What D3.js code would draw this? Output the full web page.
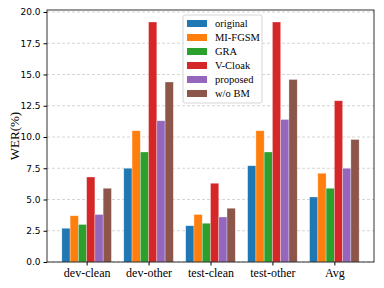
<!DOCTYPE html>
<meta charset="utf-8">
<style>
  html, body { margin: 0; padding: 0; background: #fff; }
  svg { display: block; }
  .tick text { font-family: "DejaVu Sans", sans-serif; font-size: 9px; fill: #000; }
  .xaxis .tick text { font-family: "Liberation Serif", "DejaVu Serif", serif; font-size: 12px; }
  .grid line { stroke: #ccc; stroke-dasharray: 3,2; stroke-width: 0.8; }
</style>
<div id="chart"></div>
<script src="https://cdnjs.cloudflare.com/ajax/libs/d3/7.8.5/d3.min.js"></script>
<script>
var categories = ["dev-clean", "dev-other", "test-clean", "test-other", "Avg"];
var seriesNames = ["original", "MI-FGSM", "GRA", "V-Cloak", "proposed", "w/o BM"];
var colors = ["#1f77b4", "#ff7f0e", "#2ca02c", "#d62728", "#9467bd", "#8c564b"];
var original = [2.7, 7.5, 2.9, 7.7, 5.2];
var miFgsm   = [3.7, 10.5, 3.8, 10.5, 7.1];
var gra      = [3.0, 8.8, 3.1, 8.8, 5.9];
var vCloak   = [6.8, 19.2, 6.3, 19.2, 12.9];
var proposed = [3.8, 11.3, 3.6, 11.4, 7.5];
var woBM     = [5.9, 14.4, 4.3, 14.6, 9.8];
var yTicks = [0, 2.5, 5, 7.5, 10, 12.5, 15, 17.5, 20];

var series = [original, miFgsm, gra, vCloak, proposed, woBM];

var W = 384, H = 288;
var L = 47, R = 374, T = 10, B = 262;

var svg = d3.select("#chart").append("svg").attr("width", W).attr("height", H);

// numeric x like matplotlib: centers at 0..4, 5% margin
var barW = 0.8 / series.length;
var x = d3.scaleLinear().domain([-0.64, 4.64]).range([L, R]);
var y = d3.scaleLinear().domain([0, 20.16]).range([B, T]);

// grid
svg.append("g").attr("class", "grid")
  .selectAll("line").data(yTicks).enter().append("line")
  .attr("x1", L).attr("x2", R)
  .attr("y1", function(d) { return y(d); }).attr("y2", function(d) { return y(d); });

// bars
series.forEach(function(vals, s) {
  svg.append("g").selectAll("rect").data(vals).enter().append("rect")
    .attr("x", function(d, i) { return x(i - 0.4 + s * barW); })
    .attr("width", x(barW) - x(0))
    .attr("y", function(d) { return y(d); })
    .attr("height", function(d) { return B - y(d); })
    .attr("fill", colors[s])
    .attr("stroke", "#fff").attr("stroke-opacity", 0.5).attr("stroke-width", 0.6);
});

// axes
var yAxis = d3.axisLeft(y).tickValues(yTicks).tickFormat(d3.format(".1f")).tickSize(3.5).tickPadding(3);
svg.append("g").attr("transform", "translate(" + L + ",0)").call(yAxis)
  .call(function(g) { g.select(".domain").remove(); });

var xAxis = d3.axisBottom(x).tickValues([0, 1, 2, 3, 4])
  .tickFormat(function(d) { return categories[d]; }).tickSize(3.5).tickPadding(3);
svg.append("g").attr("class", "xaxis").attr("transform", "translate(0," + B + ")").call(xAxis)
  .call(function(g) { g.select(".domain").remove(); });

// spines
svg.append("rect").attr("x", L).attr("y", T).attr("width", R - L).attr("height", B - T)
  .attr("fill", "none").attr("stroke", "#000").attr("stroke-width", 0.8);

// y label
svg.append("text")
  .attr("transform", "translate(19," + ((T + B) / 2) + ") rotate(-90)")
  .attr("text-anchor", "middle")
  .attr("font-family", "Liberation Serif, serif").attr("font-size", 13)
  .text("WER(%)");

// legend
var lg = svg.append("g").attr("transform", "translate(183,15)");
lg.append("rect").attr("width", 79).attr("height", 88).attr("rx", 2)
  .attr("fill", "#fff").attr("fill-opacity", 0.8).attr("stroke", "#ccc").attr("stroke-width", 0.8);
seriesNames.forEach(function(n, i) {
  var row = lg.append("g").attr("transform", "translate(4," + (5 + i * 14) + ")");
  row.append("rect").attr("width", 20).attr("height", 7).attr("fill", colors[i]);
  row.append("text").attr("x", 28).attr("y", 7)
    .attr("font-family", "Liberation Serif, serif").attr("font-size", 10.5).text(n);
});
</script>
